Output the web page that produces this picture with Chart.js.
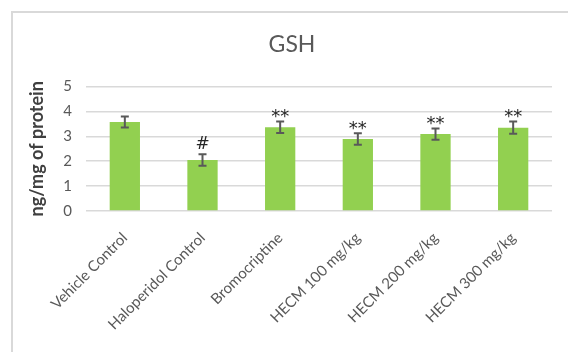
<!DOCTYPE html>
<html>
<head>
<meta charset="utf-8">
<script src="https://cdn.jsdelivr.net/npm/chart.js@4"></script>
<style>
html,body{margin:0;padding:0;background:#fff;}
canvas{display:block;}
</style>
</head>
<body>
<canvas id="c" width="568" height="352"></canvas>
<script>
const categories = ['Vehicle Control','Haloperidol Control','Bromocriptine','HECM 100 mg/kg','HECM 200 mg/kg','HECM 300 mg/kg'];
const gshValues = [3.58, 2.05, 3.37, 2.89, 3.09, 3.35];
const gshErrors = [0.22, 0.23, 0.23, 0.23, 0.23, 0.25];
const significance = ['', '#', '**', '**', '**', '**'];
const yTicks = [0, 1, 2, 3, 4, 5];

const FONT = 'Lato, "Open Sans", sans-serif';

const framePlugin = {
  id: 'frame',
  beforeDraw(chart) {
    const ctx = chart.ctx;
    ctx.save();
    ctx.fillStyle = '#fff';
    ctx.fillRect(0, 0, chart.width, chart.height);
    ctx.strokeStyle = '#d9d9d9';
    ctx.lineWidth = 2;
    ctx.beginPath();
    ctx.moveTo(12, chart.height);
    ctx.lineTo(12, 12);
    ctx.lineTo(chart.width, 12);
    ctx.stroke();
    ctx.restore();
  }
};

const errorPlugin = {
  id: 'errs',
  afterDatasetsDraw(chart) {
    const ctx = chart.ctx;
    const meta = chart.getDatasetMeta(0);
    const y = chart.scales.y;
    ctx.save();
    meta.data.forEach((bar, i) => {
      const x = bar.x;
      const top = y.getPixelForValue(gshValues[i] + gshErrors[i]);
      const bot = y.getPixelForValue(gshValues[i] - gshErrors[i]);
      ctx.strokeStyle = '#595959';
      ctx.lineWidth = 2;
      ctx.beginPath();
      ctx.moveTo(x, top); ctx.lineTo(x, bot);
      ctx.moveTo(x - 4, top); ctx.lineTo(x + 4, top);
      ctx.moveTo(x - 4, bot); ctx.lineTo(x + 4, bot);
      ctx.stroke();
      const s = significance[i];
      if (s) {
        ctx.fillStyle = '#262626';
        ctx.textAlign = 'center';
        ctx.textBaseline = 'alphabetic';
        ctx.font = (s === '#' ? '17px ' : '18px ') + '"DejaVu Sans", sans-serif';
        const m = ctx.measureText(s);
        const d = m.actualBoundingBoxDescent;
        const gap = s === '#' ? 5 : 3;
        ctx.fillText(s, x, top - gap - d);
      }
    });
    ctx.restore();
  }
};

new Chart(document.getElementById('c'), {
  type: 'bar',
  data: {
    labels: categories,
    datasets: [{
      data: gshValues,
      backgroundColor: '#92d050',
      categoryPercentage: 1,
      barPercentage: 0.39
    }]
  },
  options: {
    responsive: false,
    animation: false,
    devicePixelRatio: 1,
    layout: { padding: { left: 26, right: 10, top: 0, bottom: 0 } },
    plugins: {
      legend: { display: false },
      tooltip: { enabled: false },
      title: {
        display: true,
        text: 'GSH',
        color: '#595959',
        font: { family: FONT, size: 23, weight: 'normal' },
        padding: { top: 31, bottom: 28 }
      }
    },
    scales: {
      x: {
        grid: { display: false, drawTicks: false },
        border: { display: false },
        ticks: {
          color: '#595959',
          font: { family: FONT, size: 15 },
          minRotation: 45,
          maxRotation: 45,
          padding: 18
        },
        afterFit(s) { s.height = 141; }
      },
      y: {
        min: 0,
        max: 5,
        afterBuildTicks(s) { s.ticks = yTicks.map(v => ({ value: v })); },
        grid: { color: '#d9d9d9', lineWidth: 1.5, drawTicks: false },
        border: { display: false },
        ticks: {
          color: '#595959',
          font: { family: FONT, size: 15 },
          padding: 14
        },
        title: {
          display: true,
          text: 'ng/mg of protein',
          color: '#404040',
          font: { family: FONT, size: 18, weight: 'bold' },
          padding: { top: 0, bottom: 4 }
        },
        afterFit(s) { s.width = 60; }
      },
      yPad: {
        position: 'right',
        display: true,
        grid: { display: false, drawTicks: false },
        border: { display: false },
        ticks: { display: false },
        afterFit(s) { s.width = 6; }
      }
    }
  },
  plugins: [framePlugin, errorPlugin]
});
</script>
</body>
</html>
